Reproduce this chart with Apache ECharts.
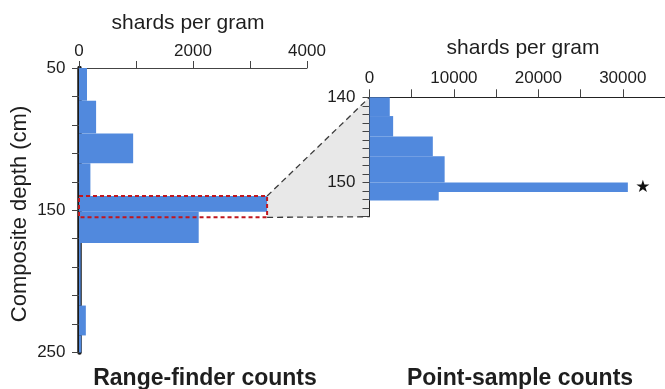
<!DOCTYPE html>
<html>
<head>
<meta charset="utf-8">
<script src="https://cdn.jsdelivr.net/npm/echarts@6/dist/echarts.min.js"></script>
<style>
  html, body { margin: 0; padding: 0; background: #fff; }
  #chart { width: 665px; height: 389px; }
</style>
</head>
<body>
<div id="chart"></div>
<script>
// Range-finder samples (coarse, whole core): depth interval in cm and shard concentration
const rangeTop    = [50, 73, 96, 117, 140, 151, 173, 217, 238];
const rangeBottom = [73, 96, 117, 140, 151, 173, 217, 238, 250];
const rangeValues = [140, 300, 950, 200, 3300, 2100, 30, 120, 40];

// Point samples (fine, 140-154 cm window)
const pointTop    = [140, 142.2, 144.6, 146.9, 150, 151.1];
const pointBottom = [142.2, 144.6, 146.9, 150, 151.1, 152.1];
const pointValues = [2400, 2800, 7500, 8900, 30600, 8200];
const pointMarks  = ['', '', '', '', '★', ''];

// Depth window that the point samples expand
const windowTop = 140;
const windowBottom = 155;
const windowValue = 3300;

// Tick positions and labels
const rangeDepthTicks  = [50, 70, 90, 110, 130, 150, 170, 190, 210, 230, 250];
const rangeDepthLabels = [50, 150, 250];
const rangeCountLabels = [0, 2000, 4000];
const pointDepthLabels = [140, 150];
const pointCountLabels = [0, 10000, 20000, 30000];

const FONT = '"Liberation Sans", Arial, Helvetica, sans-serif';
const BAR = '#5189dd';
const INK = '#1e1e1e';

const rangeData = rangeTop.map((t, i) => [t, rangeBottom[i], rangeValues[i]]);
const pointData = pointTop.map((t, i) => [t, pointBottom[i], pointValues[i], pointMarks[i]]);

function intervalBar(params, api) {
  const top = api.value(0), bottom = api.value(1), v = api.value(2);
  const p0 = api.coord([0, top]);
  const p1 = api.coord([v, bottom]);
  return {
    type: 'rect',
    shape: { x: p0[0], y: p0[1], width: p1[0] - p0[0], height: p1[1] - p0[1] },
    style: { fill: BAR }
  };
}

function pointBar(params, api) {
  const rect = intervalBar(params, api);
  const mark = pointData[params.dataIndex][3];
  if (!mark) return rect;
  const p1 = api.coord([api.value(2), api.value(1)]);
  const p0 = api.coord([0, api.value(0)]);
  return {
    type: 'group',
    children: [rect, {
      type: 'text',
      style: {
        text: mark, x: p1[0] + 15, y: (p0[1] + p1[1]) / 2 + 0.5,
        align: 'center', verticalAlign: 'middle',
        fill: '#111', font: '17px "DejaVu Sans", sans-serif'
      }
    }]
  };
}

const chart = echarts.init(document.getElementById('chart'), null, { renderer: 'canvas' });

const plain = v => String(v);
const tickLabel = { fontFamily: FONT, fontSize: 17, color: INK, formatter: plain };

chart.setOption({
  animation: false,
  grid: [
    { left: 79, top: 68, width: 228, height: 284.5 },
    { left: 369.5, top: 97.3, width: 300, height: 119.4 }
  ],
  xAxis: [
    {
      gridIndex: 0, type: 'value', position: 'top', min: 0, max: 4000, interval: 1000,
      axisLine: { show: true, lineStyle: { color: '#444', width: 1 } },
      axisTick: { show: true, length: 7, lineStyle: { color: '#444' } },
      axisLabel: { ...tickLabel, margin: 8, customValues: rangeCountLabels },
      splitLine: { show: false }
    },
    {
      gridIndex: 1, type: 'value', position: 'top', min: 0, max: 35000, interval: 5000,
      axisLine: { show: true, lineStyle: { color: '#222', width: 1 } },
      axisTick: { show: true, length: 8, lineStyle: { color: '#444' } },
      axisLabel: { ...tickLabel, margin: 10, customValues: pointCountLabels },
      splitLine: { show: false }
    }
  ],
  yAxis: [
    {
      gridIndex: 0, type: 'value', inverse: true, min: 50, max: 250, offset: 2.5,
      axisLine: { show: true, lineStyle: { color: '#1a1a1a', width: 4.5 } },
      axisTick: { show: true, length: 7, customValues: rangeDepthTicks, lineStyle: { color: '#444' } },
      axisLabel: { ...tickLabel, margin: 11, customValues: rangeDepthLabels },
      splitLine: { show: false }
    },
    {
      gridIndex: 1, type: 'value', inverse: true, min: 140, max: 154, interval: 1,
      axisLine: { show: true, lineStyle: { color: '#222', width: 1 } },
      axisTick: { show: true, length: 7, lineStyle: { color: '#444' } },
      axisLabel: { ...tickLabel, margin: 14, customValues: pointDepthLabels },
      splitLine: { show: false }
    },
    {
      // longer ticks at the labelled depths of the point-sample panel
      gridIndex: 1, type: 'value', inverse: true, min: 140, max: 154,
      axisLine: { show: false },
      axisTick: { show: true, length: 12, customValues: pointDepthLabels, lineStyle: { color: '#444' } },
      axisLabel: { show: false },
      splitLine: { show: false }
    }
  ],
  series: [
    {
      type: 'custom', name: 'Range-finder counts', xAxisIndex: 0, yAxisIndex: 0,
      renderItem: intervalBar, data: rangeData, encode: { x: 2, y: [0, 1] }, z: 2
    },
    {
      type: 'custom', name: 'Point-sample counts', xAxisIndex: 1, yAxisIndex: 1,
      renderItem: pointBar, data: pointData, encode: { x: 2, y: [0, 1] }, z: 2
    },
    {
      // dashed frame around the expanded depth window
      type: 'custom', name: 'window', xAxisIndex: 0, yAxisIndex: 0, z: 5,
      data: [[windowTop, windowBottom, windowValue]],
      encode: { x: 2, y: [0, 1] },
      renderItem: function (params, api) {
        const p0 = api.coord([0, api.value(0)]);
        const p1 = api.coord([api.value(2), api.value(1)]);
        return {
          type: 'rect',
          shape: { x: p0[0], y: p0[1], width: p1[0] - p0[0], height: p1[1] - p0[1] },
          style: { fill: 'none', stroke: '#c0161e', lineWidth: 2, lineDash: [4, 3] }
        };
      }
    }
  ]
});

// Connector between the window on the left panel and the point-sample panel
const L = { xAxisIndex: 0, yAxisIndex: 0 };
const R = { xAxisIndex: 1, yAxisIndex: 1 };
const a = chart.convertToPixel(L, [windowValue, windowTop]);
const b = chart.convertToPixel(R, [0, windowTop]);
const c = chart.convertToPixel(R, [0, 154]);
const d = chart.convertToPixel(L, [windowValue, windowBottom]);
const dashed = { stroke: '#3a3a3a', lineWidth: 1.3, lineDash: [6, 4], fill: null };

const titleFont = (size, weight) => `${weight || 'normal'} ${size}px ${FONT}`;

chart.setOption({
  graphic: [
    { type: 'polygon', z: 0, shape: { points: [a, b, c, d] }, style: { fill: '#e8e8e8' } },
    { type: 'polyline', z: 1, shape: { points: [a, b] }, style: dashed },
    { type: 'polyline', z: 1, shape: { points: [d, c] }, style: dashed },
    { type: 'text', x: 188, y: 23, style: { text: 'shards per gram', font: titleFont(21), fill: INK, align: 'center', verticalAlign: 'middle' } },
    { type: 'text', x: 523, y: 48, style: { text: 'shards per gram', font: titleFont(21), fill: INK, align: 'center', verticalAlign: 'middle' } },
    { type: 'text', x: 20, y: 214, rotation: Math.PI / 2, style: { text: 'Composite depth (cm)', font: titleFont(22), fill: INK, align: 'center', verticalAlign: 'middle' } },
    { type: 'text', x: 205, y: 379, style: { text: 'Range-finder counts', font: titleFont(23, 'bold'), fill: INK, align: 'center', verticalAlign: 'middle' } },
    { type: 'text', x: 520, y: 379, style: { text: 'Point-sample counts', font: titleFont(23, 'bold'), fill: INK, align: 'center', verticalAlign: 'middle' } }
  ]
});
</script>
</body>
</html>
